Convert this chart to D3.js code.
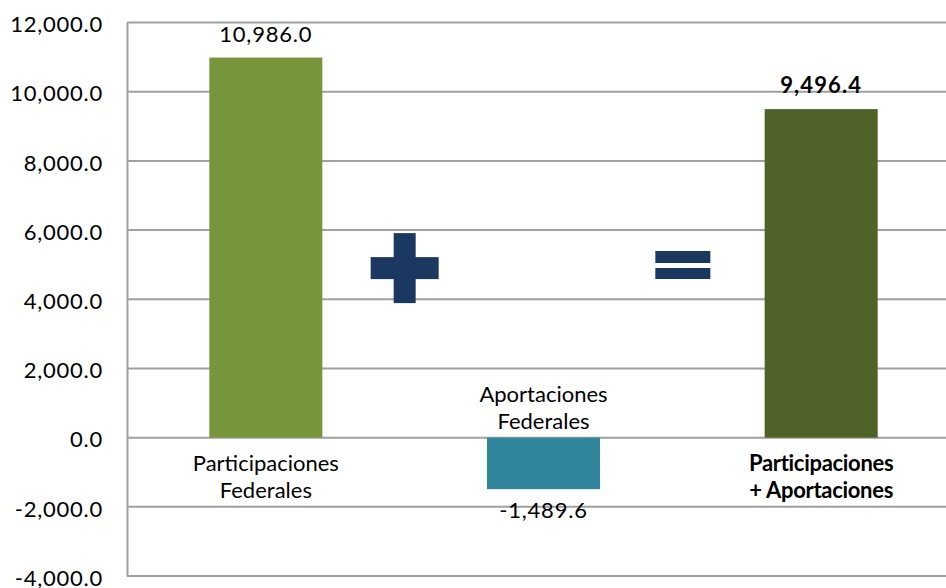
<!DOCTYPE html>
<html>
<head>
<meta charset="utf-8">
<script src="https://cdn.jsdelivr.net/npm/d3@7"></script>
<style>
  body { margin: 0; background: #fff; }
  text { font-family: Lato, "Open Sans", sans-serif; fill: #000; }
</style>
</head>
<body>
<svg width="946" height="588"></svg>
<script>
// Data
var categories = ["Participaciones Federales", "Aportaciones Federales", "Participaciones + Aportaciones"];
var labelLines = [["Participaciones", "Federales"], ["Aportaciones", "Federales"], ["Participaciones", "+ Aportaciones"]];
var values = [10986.0, -1489.6, 9496.4];
var barColors = ["#77963c", "#31859c", "#4f6228"];
var boldLabel = [false, false, true];
var yTicks = [-4000, -2000, 0, 2000, 4000, 6000, 8000, 10000, 12000];
// operator signs sit between categories
var signs = [{type: "plus", between: [0, 1], value: 4900}, {type: "equal", between: [1, 2], value: 4990}];

var svg = d3.select("svg"),
    width = +svg.attr("width"),
    height = +svg.attr("height");

var margin = {left: 127, top: 22.5, bottom: 576, right: 960};

var x = d3.scaleBand()
    .domain(categories)
    .range([margin.left, margin.right])
    .paddingInner(0.593)
    .paddingOuter(0.2965);

var y = d3.scaleLinear()
    .domain([-4000, 12000])
    .range([margin.bottom, margin.top]);

// hyphen minus like the original, not the unicode minus
var fmt = function (d) { return d3.format(",.1f")(d).replace("\u2212", "-"); };

// gridlines
svg.append("g")
    .selectAll("line")
    .data(yTicks)
    .enter()
    .append("line")
    .attr("x1", margin.left)
    .attr("x2", width)
    .attr("y1", function (d) { return y(d); })
    .attr("y2", function (d) { return y(d); })
    .style("stroke", "#a0a0a0")
    .style("stroke-width", 2);

// y axis
var yAxis = svg.append("g")
    .attr("transform", "translate(" + margin.left + ",0)")
    .call(d3.axisLeft(y).tickValues(yTicks).tickFormat(fmt).tickSize(0).tickPadding(24));
yAxis.select(".domain").style("stroke", "#a0a0a0").style("stroke-width", 2);
yAxis.selectAll("text")
    .attr("dy", "0.42em")
    .style("font-family", "Lato, 'Open Sans', sans-serif")
    .style("font-size", "22px")
    .style("letter-spacing", "0.75px")
    .style("fill", "#000");

// bars
svg.append("g")
    .selectAll("rect")
    .data(values)
    .enter()
    .append("rect")
    .attr("x", function (d, i) { return x(categories[i]); })
    .attr("width", x.bandwidth())
    .attr("y", function (d) { return y(Math.max(0, d)); })
    .attr("height", function (d) { return Math.abs(y(d) - y(0)); })
    .attr("fill", function (d, i) { return barColors[i]; });

// value labels
svg.append("g")
    .selectAll("text")
    .data(values)
    .enter()
    .append("text")
    .attr("x", function (d, i) { return x(categories[i]) + x.bandwidth() / 2; })
    .attr("y", function (d) { return d >= 0 ? y(d) - 16 : y(d) + 29; })
    .attr("text-anchor", "middle")
    .style("font-size", "22px")
    .style("letter-spacing", function (d, i) { return boldLabel[i] ? "1.1px" : "0.8px"; })
    .style("font-weight", function (d, i) { return boldLabel[i] ? "bold" : "normal"; })
    .text(function (d) { return fmt(d); });

// category labels
var cat = svg.append("g")
    .selectAll("text")
    .data(categories)
    .enter()
    .append("text")
    .attr("text-anchor", "middle")
    .style("font-size", "22px")
    .style("letter-spacing", function (d, i) { return boldLabel[i] ? "-0.3px" : "0px"; })
    .style("font-weight", function (d, i) { return boldLabel[i] ? "bold" : "normal"; })
    .attr("transform", function (d, i) {
        var cx = x(d) + x.bandwidth() / 2;
        var cy = values[i] >= 0 ? y(0) + 33 : y(0) - 36;
        return "translate(" + cx + "," + cy + ")";
    });
cat.selectAll("tspan")
    .data(function (d, i) { return labelLines[i]; })
    .enter()
    .append("tspan")
    .attr("x", 0)
    .attr("dy", function (d, j) { return j === 0 ? 0 : 27.5; })
    .text(function (d) { return d; });

// plus / equal signs
var signColor = "#1a3860";
signs.forEach(function (s) {
    var cx = (x(categories[s.between[0]]) + x(categories[s.between[1]])) / 2 + x.bandwidth() / 2;
    var cy = y(s.value);
    var g = svg.append("g").attr("transform", "translate(" + cx + "," + cy + ")");
    if (s.type === "plus") {
        g.append("rect").attr("x", -11).attr("y", -35).attr("width", 22).attr("height", 70).attr("fill", signColor);
        g.append("rect").attr("x", -34).attr("y", -11).attr("width", 68).attr("height", 22).attr("fill", signColor);
    } else {
        g.append("rect").attr("x", -27).attr("y", -14).attr("width", 55).attr("height", 12).attr("fill", signColor);
        g.append("rect").attr("x", -27).attr("y", 3).attr("width", 55).attr("height", 11).attr("fill", signColor);
    }
});
</script>
</body>
</html>
